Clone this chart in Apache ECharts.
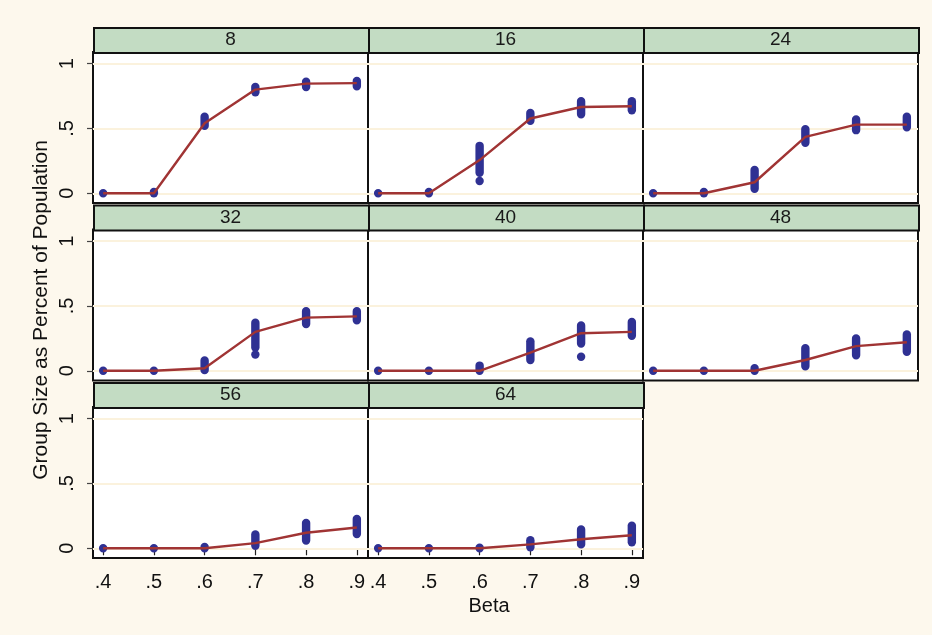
<!DOCTYPE html>
<html>
<head>
<meta charset="utf-8">
<script src="https://cdn.jsdelivr.net/npm/echarts@6/dist/echarts.min.js"></script>
<style>
html,body{margin:0;padding:0;background:#fdf8ed;}
#chart{width:932px;height:635px;}
</style>
</head>
<body>
<div id="chart"></div>
<script>
// ---- data ----
var betas = [0.4, 0.5, 0.6, 0.7, 0.8, 0.9];
var panelLabels = ['8', '16', '24', '32', '40', '48', '56', '64'];
var yTicks = [0, 0.5, 1];

// mean line per panel
var mean8  = [0, 0, 0.54, 0.80, 0.846, 0.85];
var mean16 = [0, 0, 0.256, 0.577, 0.666, 0.672];
var mean24 = [0, 0, 0.085, 0.435, 0.53, 0.53];
var mean32 = [0, 0, 0.02, 0.30, 0.41, 0.42];
var mean40 = [0, 0, 0, 0.14, 0.29, 0.30];
var mean48 = [0, 0, 0, 0.083, 0.19, 0.22];
var mean56 = [0, 0, 0, 0.04, 0.12, 0.16];
var mean64 = [0, 0, 0, 0.03, 0.07, 0.10];

// spread of replicate points (lowest / highest) per panel
var low8   = [0, 0, 0.52, 0.78, 0.82, 0.825];
var high8  = [0, 0.01, 0.59, 0.82, 0.86, 0.866];
var low16  = [0, 0, 0.158, 0.56, 0.61, 0.64];
var high16 = [0, 0.01, 0.366, 0.62, 0.71, 0.71];
var low24  = [0, 0, 0.035, 0.39, 0.487, 0.51];
var high24 = [0, 0.01, 0.18, 0.495, 0.57, 0.59];
var low32  = [0, 0, 0.005, 0.18, 0.36, 0.39];
var high32 = [0, 0, 0.08, 0.37, 0.46, 0.46];
var low40  = [0, 0, 0, 0.083, 0.21, 0.27];
var high40 = [0, 0, 0.04, 0.227, 0.35, 0.377];
var low48  = [0, 0, 0, 0.035, 0.12, 0.147];
var high48 = [0, 0, 0.02, 0.175, 0.25, 0.28];
var low56  = [0, 0, 0, 0.02, 0.06, 0.11];
var high56 = [0, 0, 0.01, 0.106, 0.196, 0.227];
var low64  = [0, 0, 0, 0.008, 0.03, 0.046];
var high64 = [0, 0, 0.005, 0.062, 0.145, 0.175];

// isolated points [beta, value]
var outliers16 = [[0.6, 0.095]];
var outliers32 = [[0.7, 0.125]];
var outliers40 = [[0.8, 0.108]];

var means = [mean8, mean16, mean24, mean32, mean40, mean48, mean56, mean64];
var lows = [low8, low16, low24, low32, low40, low48, low56, low64];
var highs = [high8, high16, high24, high32, high40, high48, high56, high64];
var outliers = [[], outliers16, [], outliers32, outliers40, [], [], []];

// ---- layout ----
var colLeft = [93, 368, 643];
var panelW = 275;
var plotTop = [52, 229.5, 407];
var plotH = 151;
var stripH = 25;
var FONT = 'Liberation Sans, Arial, sans-serif';
var DOT = '#2f3193';
var LINE = '#a03434';

function fmt(v) {
  if (v === 0) return '0';
  return String(v).replace(/^0\./, '.');
}

var grids = [], xAxes = [], yAxes = [], series = [], graphics = [];

panelLabels.forEach(function (lab, i) {
  var row = Math.floor(i / 3), col = i % 3;
  var left = colLeft[col], top = plotTop[row];
  grids.push({
    left: left, top: top, width: panelW, height: plotH,
    show: true, backgroundColor: '#ffffff', borderColor: '#111111', borderWidth: 2
  });
  var showX = row === 2;
  var showY = col === 0;
  xAxes.push({
    type: 'value', gridIndex: i, min: 0.38, max: 0.922,
    axisLine: { show: false },
    splitLine: { show: false },
    axisTick: { show: showX, customValues: betas, length: 7, lineStyle: { color: '#222', width: 1.2 } },
    axisLabel: { show: showX, customValues: betas, formatter: fmt, margin: 14,
      fontFamily: FONT, fontSize: 20, color: '#111' }
  });
  yAxes.push({
    type: 'value', gridIndex: i, min: -0.075, max: 1.09,
    axisLine: { show: false },
    splitLine: { show: false },
    axisTick: { show: showY, customValues: yTicks, length: 6, lineStyle: { color: '#444', width: 1.2 } },
    axisLabel: { show: showY, customValues: yTicks, formatter: fmt, rotate: 90, margin: 16,
      fontFamily: FONT, fontSize: 20, color: '#111' }
  });

  var rng = betas.map(function (b, k) { return [b, lows[i][k], highs[i][k]]; });
  series.push({
    type: 'custom', xAxisIndex: i, yAxisIndex: i, data: rng, z: 3,
    encode: { x: 0, y: [1, 2] },
    renderItem: function (params, api) {
      var p1 = api.coord([api.value(0), api.value(2)]);
      var p2 = api.coord([api.value(0), api.value(1)]);
      var r = 4.2;
      return {
        type: 'rect',
        shape: { x: p1[0] - r, y: p1[1] - r, width: 2 * r, height: p2[1] - p1[1] + 2 * r, r: r },
        style: { fill: DOT }
      };
    }
  });
  series.push({
    type: 'scatter', xAxisIndex: i, yAxisIndex: i, data: outliers[i],
    symbol: 'circle', symbolSize: 8.4, itemStyle: { color: DOT, opacity: 1 }, z: 3, silent: true
  });
  series.push({
    type: 'line', xAxisIndex: i, yAxisIndex: i, z: 4,
    data: betas.map(function (b, k) { return [b, means[i][k]]; }),
    symbol: 'none', lineStyle: { color: LINE, width: 2.4 }, silent: true,
    markLine: {
      silent: true, symbol: 'none', label: { show: false }, z: 1,
      lineStyle: { color: '#fbf2dd', width: 2, type: 'solid' },
      data: yTicks.map(function (t) { return { yAxis: t }; })
    }
  });

  graphics.push({
    type: 'rect', left: left, top: top - stripH, z: 10,
    shape: { width: panelW, height: stripH },
    style: { fill: '#c3dcc3', stroke: '#111111', lineWidth: 2 }
  });
  graphics.push({
    type: 'text', x: left + panelW / 2, y: top - stripH / 2 + 0.5, z: 11,
    style: { text: lab, font: '19px ' + FONT, fill: '#1a1a1a', align: 'center', verticalAlign: 'middle' }
  });
});

graphics.push({
  type: 'text', x: 41, y: 310, rotation: Math.PI / 2, z: 11,
  style: { text: 'Group Size as Percent of Population', font: '21px ' + FONT, fill: '#111',
    align: 'center', verticalAlign: 'middle' }
});
graphics.push({
  type: 'text', x: 489, y: 606, z: 11,
  style: { text: 'Beta', font: '20px ' + FONT, fill: '#111', align: 'center', verticalAlign: 'middle' }
});

var chart = echarts.init(document.getElementById('chart'), null, { renderer: 'canvas' });
chart.setOption({
  backgroundColor: '#fdf8ed',
  animation: false,
  grid: grids,
  xAxis: xAxes,
  yAxis: yAxes,
  series: series,
  graphic: graphics
});
</script>
</body>
</html>
